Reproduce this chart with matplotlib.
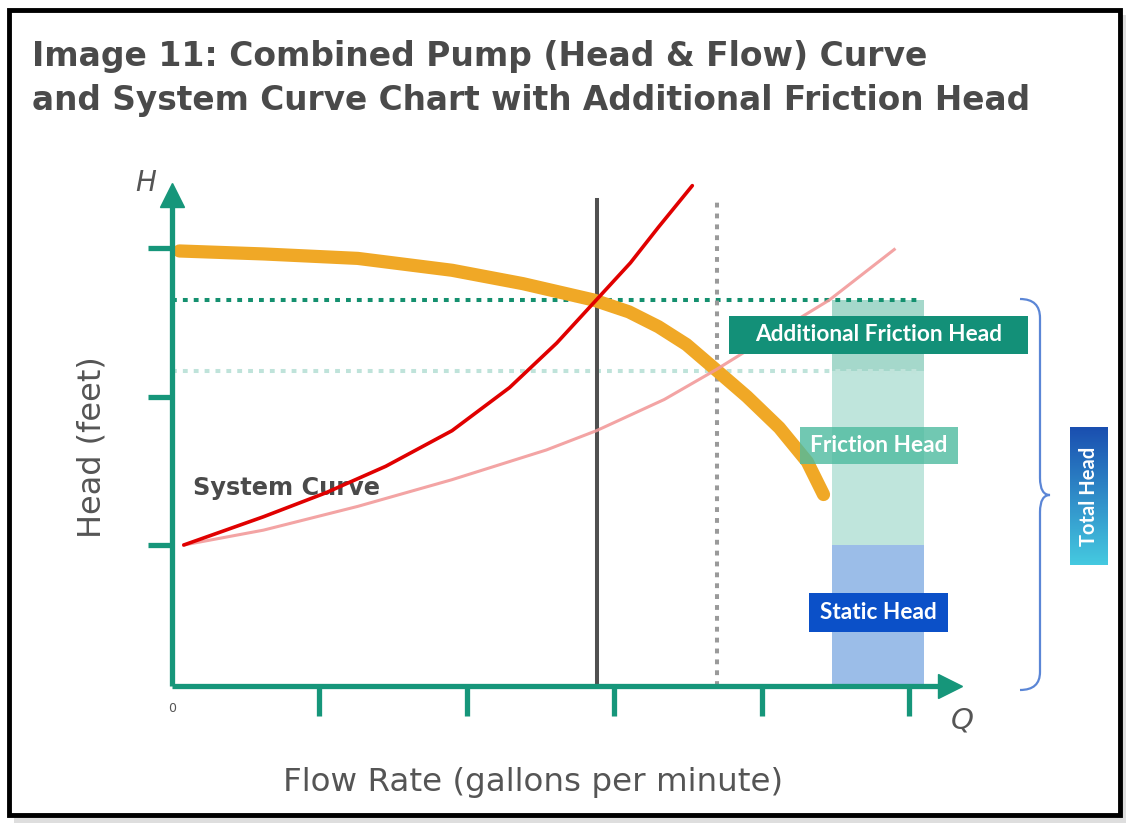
import matplotlib
matplotlib.use("Agg")
import matplotlib.pyplot as plt
import numpy as np
from matplotlib.patches import Rectangle, PathPatch
from matplotlib.path import Path
from matplotlib.colors import LinearSegmentedColormap

# pump curve (head vs flow)
pump_q = [0.05, 0.62, 1.26, 1.90, 2.38, 2.86, 3.10, 3.30, 3.49, 3.69, 3.90, 4.12, 4.31, 4.42]
pump_h = [2.98, 2.96, 2.93, 2.85, 2.76, 2.65, 2.57, 2.47, 2.35, 2.18, 2.00, 1.79, 1.56, 1.34]

# system curve with additional friction (steep red)
sys_add_q = [0.08, 0.62, 1.04, 1.45, 1.90, 2.29, 2.61, 2.86, 3.11, 3.30, 3.53]
sys_add_h = [1.00, 1.19, 1.35, 1.53, 1.77, 2.06, 2.36, 2.63, 2.90, 3.14, 3.42]

# original system curve (light pink)
sys_q = [0.08, 0.62, 1.26, 1.90, 2.54, 2.88, 3.34, 3.69, 4.13, 4.46, 4.90]
sys_h = [1.00, 1.10, 1.26, 1.44, 1.64, 1.77, 1.98, 2.18, 2.45, 2.65, 2.99]

# operating points
op_new_q, op_new_h = 2.88, 2.65
op_old_q, op_old_h = 3.70, 2.17

# head components shown as a stacked column
static_head = 1.00
friction_top = 2.17
add_friction_top = 2.65

x_ticks = [1, 2, 3, 4, 5]
y_ticks = [1, 2, 3]

W, H = 1140, 831
TEAL = "#16967a"

fig = plt.figure(figsize=(W / 100, H / 100), dpi=100)
fig.patch.set_facecolor("white")

# frame with soft shadow
fig.patches.append(Rectangle((14 / W, 1 - 823 / H), 1112 / W, 808 / H, transform=fig.transFigure,
                             facecolor="#c8c8c8", edgecolor="none", alpha=0.6, zorder=0))
fig.patches.append(Rectangle((9 / W, 1 - 815 / H), 1111 / W, 805 / H, transform=fig.transFigure,
                             facecolor="white", edgecolor="black", lw=3.5, zorder=0.5))

ax = fig.add_axes([0, 0, 1, 1])
ax.set_zorder(2)
ax.axis("off")
ax.patch.set_alpha(0)

def px(x, y):
    return (x - 172) / 147.4, (693.5 - y) / 148.5

# title
fig.text(32 / W, 1 - 66 / H, "Image 11: Combined Pump (Head & Flow) Curve",
         fontsize=23.8, fontweight="bold", color="#4a4a4a", va="baseline", zorder=3)
fig.text(32 / W, 1 - 110 / H, "and System Curve Chart with Additional Friction Head",
         fontsize=23.6, fontweight="bold", color="#4a4a4a", va="baseline", zorder=3)

# stacked head column
bx0, bw = 4.48, 0.62
y_axis0 = 0.05
ax.bar(bx0, static_head - y_axis0, bottom=y_axis0, width=bw, align="edge",
       color="#9bbde8", zorder=1)
ax.bar(bx0, friction_top - static_head, bottom=static_head, width=bw, align="edge",
       color="#bfe5dc", zorder=1)
ax.bar(bx0, add_friction_top - friction_top, bottom=friction_top, width=bw, align="edge",
       color="#a5d8cb", zorder=1)

# dotted guide lines
ax.plot([0, 5.09], [op_new_h, op_new_h], color="#14906f", lw=2.9, ls=(0, (1.2, 1.5)), zorder=2)
ax.plot([0, 5.09], [op_old_h, op_old_h], color="#bfe3da", lw=2.9, ls=(0, (1.2, 1.5)), zorder=2)
ax.plot([op_old_q, op_old_q], [y_axis0, 3.32], color="#9a9a9a", lw=2.9, ls=(0, (1.2, 1.5)), zorder=2)
ax.plot([op_new_q, op_new_q], [y_axis0, 3.32], color="#505050", lw=2.9, zorder=3)

# curves
ax.plot(pump_q, pump_h, color="#f0a826", lw=9.5, solid_capstyle="round",
        solid_joinstyle="round", zorder=4)
ax.plot(sys_q, sys_h, color="#f29a9a", lw=2.2, alpha=0.9, solid_joinstyle="round", zorder=5)
ax.plot(sys_add_q, sys_add_h, color="#e00000", lw=2.6, solid_capstyle="round",
        solid_joinstyle="round", zorder=6)

# axes with arrows
ax.plot([0, 0], [y_axis0, 3.33], color=TEAL, lw=3.8, zorder=7, solid_capstyle="butt")
ax.plot([0, 5.27], [y_axis0, y_axis0], color=TEAL, lw=3.8, zorder=7, solid_capstyle="butt")
ax.plot([0], [3.36], marker="^", ms=17, color=TEAL, mec=TEAL, zorder=7)
ax.plot([5.28], [y_axis0], marker=">", ms=17, color=TEAL, mec=TEAL, zorder=7)
for t in x_ticks:
    ax.plot([t, t], [y_axis0, -0.15], color=TEAL, lw=3.8, solid_capstyle="butt", zorder=7)
for t in y_ticks:
    ax.plot([-0.165, 0], [t, t], color=TEAL, lw=3.8, solid_capstyle="butt", zorder=7)

ax.text(*px(146, 183), "H", fontsize=20, style="italic", color="#555555", ha="center", va="center")
ax.text(*px(962, 720), "Q", fontsize=21, style="italic", color="#555555", ha="center", va="center")
ax.text(*px(172, 708), "0", fontsize=9, color="#555555", ha="center", va="center")
ax.text(*px(193, 488), "System Curve", fontsize=17.3, fontweight="bold", color="#4a4a4a",
        ha="left", va="center", zorder=5.5)

# axis titles
ax.text(*px(92, 447), "Head (feet)", fontsize=23, color="#555555", rotation=90,
        ha="center", va="center")
ax.text(*px(533, 783), "Flow Rate (gallons per minute)", fontsize=23.4, color="#555555",
        ha="center", va="center")

# label boxes
def label_box(x0, y0, x1, y1, text, fc, alpha=1.0, z=8):
    (dx0, dy0), (dx1, dy1) = px(x0, y1), px(x1, y0)
    ax.add_patch(Rectangle((dx0, dy0), dx1 - dx0, dy1 - dy0, facecolor=fc, edgecolor="none",
                           alpha=alpha, zorder=z))
    ax.text((dx0 + dx1) / 2, (dy0 + dy1) / 2, text, fontsize=16.3, fontweight="bold",
            family=["Lato", "DejaVu Sans"], color="white", ha="center", va="center", zorder=z + 0.1)

label_box(729, 316, 1028, 354, "Additional Friction Head", "#139078")
label_box(800, 427, 958, 464, "Friction Head", "#4dbb9f", alpha=0.8)
label_box(809, 593, 948, 632, "Static Head", "#0b50c8")

# total head gradient tag
(tx0, ty0), (tx1, ty1) = px(1070, 565), px(1108, 427)
cmap = LinearSegmentedColormap.from_list("th", ["#45c9e0", "#1a4fb0"])
ax.imshow(np.linspace(0, 1, 100).reshape(-1, 1), cmap=cmap, origin="lower",
          extent=[tx0, tx1, ty0, ty1], aspect="auto", zorder=8)
ax.text((tx0 + tx1) / 2, (ty0 + ty1) / 2, "Total Head", rotation=90, fontsize=14.5,
        fontweight="bold", family=["Lato", "DejaVu Sans"], color="white",
        ha="center", va="center", zorder=9)

# curly brace
pts = [px(1020, 299), px(1040, 299), px(1040, 318),
       px(1040, 478),
       px(1040, 495), px(1050, 495),
       px(1040, 495), px(1040, 512),
       px(1040, 672),
       px(1040, 690), px(1020, 690)]
codes = [Path.MOVETO, Path.CURVE3, Path.CURVE3,
         Path.LINETO,
         Path.CURVE3, Path.CURVE3,
         Path.CURVE3, Path.CURVE3,
         Path.LINETO,
         Path.CURVE3, Path.CURVE3]
ax.add_patch(PathPatch(Path(pts, codes), facecolor="none", edgecolor="#5b86d6", lw=1.6, zorder=8))

ax.set_xlim(-172 / 147.4, (W - 172) / 147.4)
ax.set_ylim((693.5 - H) / 148.5, 693.5 / 148.5)

fig.savefig("out.png", dpi=100, facecolor="white")
